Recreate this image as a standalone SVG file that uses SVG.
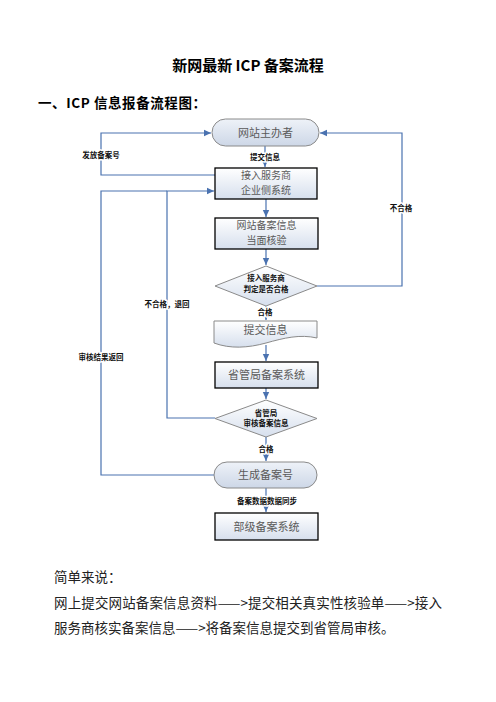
<svg xmlns="http://www.w3.org/2000/svg" width="496" height="702" viewBox="0 0 496 702">
<style>
.t{font-family:"Noto Sans CJK SC","Noto Sans",sans-serif;}
.title{font-size:15px;font-weight:bold;fill:#000;}
.head{font-size:13.5px;font-weight:bold;fill:#000;}
.body{font-size:13.5px;fill:#222;}
.nl{font-size:11px;fill:#5a5a5a;text-anchor:middle;}
.nl2{font-size:10px;fill:#5a5a5a;text-anchor:middle;}
.dl{font-size:7.5px;font-weight:bold;fill:#111;text-anchor:middle;}
.cl{font-size:7.5px;font-weight:bold;fill:#111;text-anchor:middle;stroke:#fff;stroke-width:3px;paint-order:stroke;stroke-linejoin:round;}
.term{fill:url(#gt);stroke:#8a8a8a;stroke-width:1;}
.box{fill:url(#gb);stroke:#000;stroke-width:1.3;}
.dia{fill:url(#gb);stroke:#8a8a8a;stroke-width:1;}
.doc{fill:url(#gb);stroke:#8a8a8a;stroke-width:1;}
.c{fill:none;stroke:#4a72b0;stroke-width:1.2;}
</style>
<defs>
<linearGradient id="gt" x1="0" y1="0" x2="0" y2="1">
<stop offset="0" stop-color="#eef2f8"/><stop offset="1" stop-color="#cdd7e7"/>
</linearGradient>
<linearGradient id="gb" x1="0" y1="0" x2="0" y2="1">
<stop offset="0" stop-color="#ffffff"/><stop offset="1" stop-color="#d6dfed"/>
</linearGradient>
<marker id="ar" markerUnits="userSpaceOnUse" markerWidth="8" markerHeight="8" refX="7" refY="4" orient="auto">
<path d="M0,0.8 L7,4 L0,7.2 Z" fill="#4a72b0"/>
</marker>
</defs>

<text class="t title" x="248" y="71" text-anchor="middle">新网最新 ICP 备案流程</text>
<text class="t head" x="38" y="108" textLength="168" lengthAdjust="spacing">一、ICP 信息报备流程图：</text>

<g id="connectors">
<path class="c" d="M265,146 V167" marker-end="url(#ar)"/>
<path class="c" d="M266,199 V217" marker-end="url(#ar)"/>
<path class="c" d="M266,249 V265" marker-end="url(#ar)"/>
<path class="c" d="M266,306 V320" marker-end="url(#ar)"/>
<path class="c" d="M317,286 H402 V133 H320" marker-end="url(#ar)"/>
<path class="c" d="M266,345 V361" marker-end="url(#ar)"/>
<path class="c" d="M266,388 V399" marker-end="url(#ar)"/>
<path class="c" d="M266,437 V461" marker-end="url(#ar)"/>
<path class="c" d="M215,418 H167 V191 H214" marker-end="url(#ar)"/>
<path class="c" d="M214,475 H101 V191 H167"/>
<path class="c" d="M215,175 H101 V133 H211" marker-end="url(#ar)"/>
<path class="c" d="M215,175 Q225,183 215,191"/>
<path class="c" d="M266,488 V512" marker-end="url(#ar)"/>
<text class="t cl" x="265" y="160">提交信息</text>
<text class="t cl" x="265" y="315">合格</text>
<text class="t cl" x="401" y="211">不合格</text>
<text class="t cl" x="266" y="452">合格</text>
<text class="t cl" x="167" y="307">不合格，退回</text>
<text class="t cl" x="101" y="360">审核结果返回</text>
<text class="t cl" x="101" y="158">发放备案号</text>
<text class="t cl" x="267" y="504">备案数据数据同步</text>
</g>

<g id="n1">
<rect class="term" x="212" y="119" width="107" height="27" rx="13.5"/>
<text class="t nl" x="265.5" y="136.5">网站主办者</text>
</g>
<g id="n2">
<rect class="box" x="215" y="168" width="102" height="31"/>
<text class="t nl2" x="266" y="178.5">接入服务商</text>
<text class="t nl2" x="266" y="193.5">企业侧系统</text>
</g>
<g id="n3">
<rect class="box" x="215" y="218" width="103" height="31"/>
<text class="t nl2" x="266.5" y="228.5">网站备案信息</text>
<text class="t nl2" x="266.5" y="243.5">当面核验</text>
</g>
<g id="n4">
<path class="dia" d="M266,266 L317,286 L266,306 L215,286 Z"/>
<text class="t dl" x="266" y="281">接入服务商</text>
<text class="t dl" x="266" y="292">判定是否合格</text>
</g>
<g id="n5">
<path class="doc" d="M214,321 H317 V338 C300,334 284,338 266,343 C248,348 230,349 214,343 Z"/>
<text class="t nl" x="265.5" y="334">提交信息</text>
</g>
<g id="n6">
<rect class="box" x="215" y="362" width="103" height="26"/>
<text class="t nl" x="266.5" y="379">省管局备案系统</text>
</g>
<g id="n7">
<path class="dia" d="M266,400 L317,418.5 L266,437 L215,418.5 Z"/>
<text class="t dl" x="266" y="416">省管局</text>
<text class="t dl" x="266" y="426">审核备案信息</text>
</g>
<g id="n8">
<rect class="term" x="214" y="462" width="103" height="26" rx="13"/>
<text class="t nl" x="265.5" y="479">生成备案号</text>
</g>
<g id="n9">
<rect class="box" x="215" y="513" width="103" height="27"/>
<text class="t nl" x="266.5" y="530.5">部级备案系统</text>
</g>

<text class="t body" x="54" y="582">简单来说：</text>
<text class="t body" x="54" y="608" textLength="388" lengthAdjust="spacing">网上提交网站备案信息资料——&gt;提交相关真实性核验单——&gt;接入</text>
<text class="t body" x="54" y="633">服务商核实备案信息——&gt;将备案信息提交到省管局审核。</text>
</svg>
